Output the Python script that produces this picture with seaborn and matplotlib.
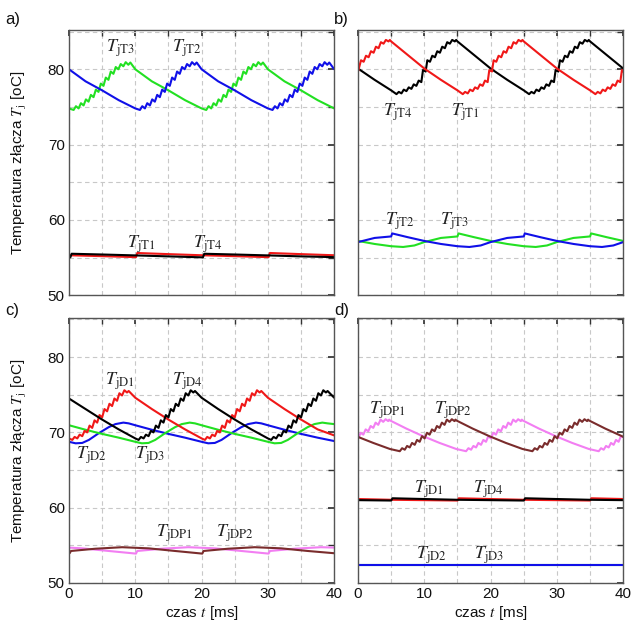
import pandas as pd
import matplotlib
matplotlib.use("Agg")
import matplotlib.pyplot as plt
import seaborn as sns
from matplotlib.ticker import MultipleLocator

# ---- values: time [ms], temperature [degC] ----

# panel a) transistors, upper pair
a_T2_t = [0, 2.5, 5, 7.5, 10, 10.7, 11.05, 11.45, 11.8, 12.2, 12.55, 12.95, 13.3, 13.7, 14.05, 14.45, 14.8,
          15.2, 15.55, 15.95, 16.3, 16.7, 17.05, 17.45, 17.8, 18.2, 18.55, 18.95, 19.25, 20, 22.5, 25, 27.5, 30,
          30.7, 31.05, 31.45, 31.8, 32.2, 32.55, 32.95, 33.3, 33.7, 34.05, 34.45, 34.8, 35.2, 35.55, 35.95, 36.3,
          36.7, 37.05, 37.45, 37.8, 38.2, 38.55, 38.95, 39.25, 40]
a_T2_T = [80.0, 78.4, 77.2, 75.9, 74.8, 74.6, 75.1, 74.8, 75.5, 75.2, 76.0, 75.7, 76.6, 76.3, 77.3, 77.0, 78.1,
          77.8, 78.9, 78.6, 79.7, 79.4, 80.3, 80.0, 80.7, 80.4, 80.95, 80.6, 80.9, 80.0, 78.4, 77.2, 75.9, 74.8,
          74.6, 75.1, 74.8, 75.5, 75.2, 76.0, 75.7, 76.6, 76.3, 77.3, 77.0, 78.1, 77.8, 78.9, 78.6, 79.7,
          79.4, 80.3, 80.0, 80.7, 80.4, 80.95, 80.6, 80.9, 80.0]
a_T3_t = [0, 0.7, 1.05, 1.45, 1.8, 2.2, 2.55, 2.95, 3.3, 3.7, 4.05, 4.45, 4.8, 5.2, 5.55, 5.95, 6.3, 6.7, 7.05,
          7.45, 7.8, 8.2, 8.55, 8.95, 9.25, 10, 12.5, 15, 17.5, 20, 20.7, 21.05, 21.45, 21.8, 22.2, 22.55, 22.95,
          23.3, 23.7, 24.05, 24.45, 24.8, 25.2, 25.55, 25.95, 26.3, 26.7, 27.05, 27.45, 27.8, 28.2, 28.55, 28.95,
          29.25, 30, 32.5, 35, 37.5, 40]
a_T3_T = [74.8, 74.6, 75.1, 74.8, 75.5, 75.2, 76.0, 75.7, 76.6, 76.3, 77.3, 77.0, 78.1, 77.8, 78.9, 78.6, 79.7,
          79.4, 80.3, 80.0, 80.7, 80.4, 80.95, 80.6, 80.9, 80.0, 78.4, 77.2, 75.9, 74.8, 74.6, 75.1, 74.8, 75.5,
          75.2, 76.0, 75.7, 76.6, 76.3, 77.3, 77.0, 78.1, 77.8, 78.9, 78.6, 79.7, 79.4, 80.3, 80.0, 80.7, 80.4,
          80.95, 80.6, 80.9, 80.0, 78.4, 77.2, 75.9, 74.8]
# panel a) lower pair
a_T1_t = [0, 5, 10.1, 10.3, 15, 20, 25, 30.1, 30.3, 35, 40]
a_T1_T = [55.3, 55.18, 55.05, 55.6, 55.45, 55.3, 55.18, 55.05, 55.6, 55.45, 55.3]
a_T4_t = [0, 0.2, 0.4, 5, 10, 15, 20.2, 20.4, 25, 30, 35, 40]
a_T4_T = [55.05, 55.02, 55.5, 55.4, 55.28, 55.15, 55.02, 55.5, 55.4, 55.28, 55.15, 55.05]

# panel b) upper pair
b_T1_t = [0, 0.45, 0.85, 1.2, 1.6, 1.95, 2.35, 2.7, 3.1, 3.45, 3.85, 4.2, 4.6, 4.8, 5, 7.5, 10, 12.5, 15,
          15.8, 16.15, 16.55, 16.9, 17.3, 17.65, 18.05, 18.4, 18.8, 19.15, 19.55, 19.8, 20.2, 20.45, 20.85, 21.2,
          21.6, 21.95, 22.35, 22.7, 23.1, 23.45, 23.85, 24.2, 24.6, 24.8, 25, 27.5, 30, 32.5, 35, 35.8, 36.15,
          36.55, 36.9, 37.3, 37.65, 38.05, 38.4, 38.8, 39.15, 39.55, 39.8, 40]
b_T1_T = [79.7, 81.2, 81.0, 81.8, 81.6, 82.4, 82.2, 83.0, 82.8, 83.6, 83.4, 83.9, 83.7, 83.9, 83.7, 81.9, 80.1,
          78.6, 77.2, 76.7, 77.0, 76.8, 77.3, 77.1, 77.6, 77.4, 78.0, 77.8, 78.5, 78.3, 79.9, 79.7, 81.2, 81.0,
          81.8, 81.6, 82.4, 82.2, 83.0, 82.8, 83.6, 83.4, 83.9, 83.7, 83.9, 83.7, 81.9, 80.1, 78.6, 77.2, 76.7,
          77.0, 76.8, 77.3, 77.1, 77.6, 77.4, 78.0, 77.8, 78.5, 78.3, 79.9, 79.7]
b_T4_t = [0, 2.5, 5, 5.8, 6.15, 6.55, 6.9, 7.3, 7.65, 8.05, 8.4, 8.8, 9.15, 9.55, 9.8, 10.2, 10.45, 10.85,
          11.2, 11.6, 11.95, 12.35, 12.7, 13.1, 13.45, 13.85, 14.2, 14.6, 14.8, 15, 17.5, 20, 22.5, 25, 25.8,
          26.15, 26.55, 26.9, 27.3, 27.65, 28.05, 28.4, 28.8, 29.15, 29.55, 29.8, 30.2, 30.45, 30.85, 31.2, 31.6,
          31.95, 32.35, 32.7, 33.1, 33.45, 33.85, 34.2, 34.6, 34.8, 35, 37.5, 40]
b_T4_T = [80.1, 78.6, 77.2, 76.7, 77.0, 76.8, 77.3, 77.1, 77.6, 77.4, 78.0, 77.8, 78.5, 78.3, 79.9, 79.7, 81.2,
          81.0, 81.8, 81.6, 82.4, 82.2, 83.0, 82.8, 83.6, 83.4, 83.9, 83.7, 83.9, 83.7, 81.9, 80.1, 78.6, 77.2,
          76.7, 77.0, 76.8, 77.3, 77.1, 77.6, 77.4, 78.0, 77.8, 78.5, 78.3, 79.9, 79.7, 81.2, 81.0, 81.8, 81.6,
          82.4, 82.2, 83.0, 82.8, 83.6, 83.4, 83.9, 83.7, 83.9, 83.7, 81.9, 80.1]
# panel b) lower pair
b_T2_t = [0, 2.5, 5.0, 5.15, 7.5, 10, 12.5, 15, 16.8, 18.5, 20, 22.5, 25.0, 25.15, 27.5, 30, 32.5, 35, 36.8,
          38.5, 40]
b_T2_T = [57.05, 57.6, 57.8, 58.2, 57.7, 57.2, 56.8, 56.5, 56.4, 56.6, 57.05, 57.6, 57.8, 58.2, 57.7, 57.2,
          56.8, 56.5, 56.4, 56.6, 57.05]
b_T3_t = [0, 2.5, 5, 6.8, 8.5, 10, 12.5, 15.0, 15.15, 17.5, 20, 22.5, 25, 26.8, 28.5, 30, 32.5, 35.0, 35.15,
          37.5, 40]
b_T3_T = [57.2, 56.8, 56.5, 56.4, 56.6, 57.05, 57.6, 57.8, 58.2, 57.7, 57.2, 56.8, 56.5, 56.4, 56.6, 57.05,
          57.6, 57.8, 58.2, 57.7, 57.2]

# panel c) diodes
c_D1_t = [0, 0.5, 0.85, 1.25, 1.6, 2.0, 2.35, 2.75, 3.1, 3.5, 3.85, 4.25, 4.6, 5.0, 5.35, 5.75, 6.1, 6.5,
          6.85, 7.25, 7.6, 8.0, 8.35, 8.75, 9.0, 10, 12.5, 15, 17.5, 20, 20.5, 20.85, 21.25, 21.6, 22.0, 22.35,
          22.75, 23.1, 23.5, 23.85, 24.25, 24.6, 25.0, 25.35, 25.75, 26.1, 26.5, 26.85, 27.25, 27.6, 28.0, 28.35,
          28.75, 29.0, 30, 32.5, 35, 37.5, 40]
c_D1_T = [69.2, 69.0, 69.4, 69.2, 69.7, 69.5, 70.2, 70.0, 70.9, 70.6, 71.6, 71.3, 72.3, 72.0, 73.1, 72.8,
          73.8, 73.5, 74.5, 74.2, 75.2, 74.9, 75.6, 75.3, 75.5, 74.6, 73.1, 71.7, 70.4, 69.2, 69.0, 69.4, 69.2,
          69.7, 69.5, 70.2, 70.0, 70.9, 70.6, 71.6, 71.3, 72.3, 72.0, 73.1, 72.8, 73.8, 73.5, 74.5, 74.2, 75.2,
          74.9, 75.6, 75.3, 75.5, 74.6, 73.1, 71.7, 70.4, 69.6]
c_D4_t = [0, 2.5, 5, 7.5, 10, 10.5, 10.85, 11.25, 11.6, 12.0, 12.35, 12.75, 13.1, 13.5, 13.85, 14.25, 14.6,
          15.0, 15.35, 15.75, 16.1, 16.5, 16.85, 17.25, 17.6, 18.0, 18.35, 18.75, 19.0, 20, 22.5, 25, 27.5, 30,
          30.5, 30.85, 31.25, 31.6, 32.0, 32.35, 32.75, 33.1, 33.5, 33.85, 34.25, 34.6, 35.0, 35.35, 35.75, 36.1,
          36.5, 36.85, 37.25, 37.6, 38.0, 38.35, 38.75, 39.0, 40]
c_D4_T = [74.5, 73.1, 71.7, 70.4, 69.2, 69.0, 69.4, 69.2, 69.7, 69.5, 70.2, 70.0, 70.9, 70.6, 71.6, 71.3,
          72.3, 72.0, 73.1, 72.8, 73.8, 73.5, 74.5, 74.2, 75.2, 74.9, 75.6, 75.3, 75.5, 74.6, 73.1, 71.7, 70.4,
          69.2, 69.0, 69.4, 69.2, 69.7, 69.5, 70.2, 70.0, 70.9, 70.6, 71.6, 71.3, 72.3, 72.0, 73.1, 72.8, 73.8,
          73.5, 74.5, 74.2, 75.2, 74.9, 75.6, 75.3, 75.5, 74.6]
c_D2_t = [0, 1.0, 2.0, 3.0, 4.5, 6.0, 7.0, 8.2, 9, 10, 12.5, 15, 17.5, 20, 21.0, 22.0, 23.0, 24.5, 26.0,
          27.0, 28.2, 29, 30, 32.5, 35, 37.5, 40]
c_D2_T = [68.75, 68.55, 68.6, 69.0, 69.9, 70.7, 71.1, 71.3, 71.2, 70.95, 70.35, 69.8, 69.3, 68.75, 68.55,
          68.6, 69.0, 69.9, 70.7, 71.1, 71.3, 71.2, 70.95, 70.35, 69.8, 69.3, 68.85]
c_D3_t = [0, 2.5, 5, 7.5, 10, 11, 12, 13, 14.5, 16, 17, 18.2, 19, 20, 22.5, 25, 27.5, 30, 31, 32, 33, 34.5,
          36, 37, 38.2, 39, 40]
c_D3_T = [70.95, 70.35, 69.8, 69.3, 68.75, 68.55, 68.6, 69.0, 69.9, 70.7, 71.1, 71.3, 71.2, 70.95, 70.35,
          69.8, 69.3, 68.75, 68.55, 68.6, 69.0, 69.9, 70.7, 71.1, 71.3, 71.2, 71.1]
c_DP1_t = [0, 2, 6, 10.1, 10.3, 14, 18, 22, 26, 30.1, 30.3, 34, 38, 40]
c_DP1_T = [54.7, 54.6, 54.25, 53.9, 54.25, 54.55, 54.75, 54.6, 54.25, 53.9, 54.25, 54.55, 54.75, 54.7]
c_DP2_t = [0, 0.1, 0.3, 4, 8, 12, 16, 20.1, 20.3, 24, 28, 32, 36, 40]
c_DP2_T = [54.0, 53.95, 54.25, 54.55, 54.75, 54.6, 54.25, 53.9, 54.25, 54.55, 54.75, 54.6, 54.25, 53.95]

# panel d) diodes, parallel diodes on top
d_DP1_t = [0, 0.05, 0.4, 0.8, 1.15, 1.55, 1.9, 2.3, 2.65, 3.05, 3.4, 3.8, 4.15, 4.55, 4.7, 4.8, 7.3, 9.8,
           12.3, 14.8, 16.3, 16.65, 17.05, 17.4, 17.8, 18.15, 18.55, 18.9, 19.3, 19.65, 20.05, 20.4, 20.8, 21.15,
           21.55, 21.9, 22.3, 22.65, 23.05, 23.4, 23.8, 24.15, 24.55, 24.7, 24.8, 27.3, 29.8, 32.3, 34.8, 36.3,
           36.65, 37.05, 37.4, 37.8, 38.15, 38.55, 38.9, 39.3, 39.65, 40]
d_DP1_T = [69.35, 69.2, 69.95, 69.7, 70.4, 70.15, 70.85, 70.6, 71.3, 71.0, 71.7, 71.4, 71.75, 71.5, 71.7,
           71.6, 70.5, 69.5, 68.6, 67.8, 67.5, 67.9, 67.7, 68.2, 68.0, 68.6, 68.35, 69.0, 68.75, 69.5, 69.2,
           69.95, 69.7, 70.4, 70.15, 70.85, 70.6, 71.3, 71.0, 71.7, 71.4, 71.75, 71.5, 71.7, 71.6, 70.5, 69.5,
           68.6, 67.8, 67.5, 67.9, 67.7, 68.2, 68.0, 68.6, 68.35, 69.0, 68.75, 69.5, 69.35]
d_DP2_t = [0, 2.3, 4.8, 6.3, 6.65, 7.05, 7.4, 7.8, 8.15, 8.55, 8.9, 9.3, 9.65, 10.05, 10.4, 10.8, 11.15,
           11.55, 11.9, 12.3, 12.65, 13.05, 13.4, 13.8, 14.15, 14.55, 14.7, 14.8, 17.3, 19.8, 22.3, 24.8, 26.3,
           26.65, 27.05, 27.4, 27.8, 28.15, 28.55, 28.9, 29.3, 29.65, 30.05, 30.4, 30.8, 31.15, 31.55, 31.9,
           32.3, 32.65, 33.05, 33.4, 33.8, 34.15, 34.55, 34.7, 34.8, 37.3, 39.8, 40]
d_DP2_T = [69.4, 68.6, 67.8, 67.5, 67.9, 67.7, 68.2, 68.0, 68.6, 68.35, 69.0, 68.75, 69.5, 69.2, 69.95, 69.7,
           70.4, 70.15, 70.85, 70.6, 71.3, 71.0, 71.7, 71.4, 71.75, 71.5, 71.7, 71.6, 70.5, 69.5, 68.6, 67.8,
           67.5, 67.9, 67.7, 68.2, 68.0, 68.6, 68.35, 69.0, 68.75, 69.5, 69.2, 69.95, 69.7, 70.4, 70.15, 70.85,
           70.6, 71.3, 71.0, 71.7, 71.4, 71.75, 71.5, 71.7, 71.6, 70.5, 69.5, 69.4]
d_D1_t = [0, 5, 10, 15.0, 15.2, 20, 25, 30, 35.0, 35.2, 40]
d_D1_T = [61.15, 61.05, 61.0, 60.95, 61.25, 61.15, 61.05, 61.0, 60.95, 61.25, 61.15]
d_D4_t = [0, 5.0, 5.2, 10, 15, 20, 25.0, 25.2, 30, 35, 40]
d_D4_T = [61.0, 60.95, 61.25, 61.15, 61.05, 61.0, 60.95, 61.25, 61.15, 61.05, 61.0]
d_D2_t = [0, 40]
d_D2_T = [52.33, 52.33]
d_D3_t = [0, 40]
d_D3_T = [52.38, 52.38]

BLUE, GREEN, RED, BLACK = "#1010e8", "#22e022", "#f01818", "#000000"
PINK, BROWN = "#f27ef2", "#7a2c2c"

panels = {
    "a": [("T3", a_T3_t, a_T3_T, GREEN), ("T2", a_T2_t, a_T2_T, BLUE),
          ("T1", a_T1_t, a_T1_T, RED), ("T4", a_T4_t, a_T4_T, BLACK)],
    "b": [("T4", b_T4_t, b_T4_T, BLACK), ("T1", b_T1_t, b_T1_T, RED),
          ("T3", b_T3_t, b_T3_T, GREEN), ("T2", b_T2_t, b_T2_T, BLUE)],
    "c": [("D2", c_D2_t, c_D2_T, BLUE), ("D3", c_D3_t, c_D3_T, GREEN),
          ("D1", c_D1_t, c_D1_T, RED), ("D4", c_D4_t, c_D4_T, BLACK),
          ("DP1", c_DP1_t, c_DP1_T, PINK), ("DP2", c_DP2_t, c_DP2_T, BROWN)],
    "d": [("DP1", d_DP1_t, d_DP1_T, PINK), ("DP2", d_DP2_t, d_DP2_T, BROWN),
          ("D1", d_D1_t, d_D1_T, RED), ("D4", d_D4_t, d_D4_T, BLACK),
          ("D3", d_D3_t, d_D3_T, GREEN), ("D2", d_D2_t, d_D2_T, BLUE)],
}

# curve labels: (text subscript, t, T) at the baseline of the label
labels = {
    "a": [("jT3", 5.6, 82.3), ("jT2", 15.6, 82.3), ("jT1", 8.8, 56.35), ("jT4", 18.7, 56.35)],
    "b": [("jT4", 3.8, 73.9), ("jT1", 14.0, 73.9), ("jT2", 4.0, 59.4), ("jT3", 12.3, 59.4)],
    "c": [("jD1", 5.5, 76.4), ("jD4", 15.6, 76.4), ("jD2", 1.0, 66.5), ("jD3", 10.0, 66.5),
          ("jDP1", 13.1, 56.1), ("jDP2", 22.1, 56.1)],
    "d": [("jDP1", 1.6, 72.5), ("jDP2", 11.5, 72.5), ("jD1", 8.5, 62.05), ("jD4", 17.3, 62.05),
          ("jD2", 8.8, 53.2), ("jD3", 17.5, 53.2)],
}

sns.set_theme(style="white")
plt.rcParams['font.family'] = ['Liberation Sans', 'DejaVu Sans']
plt.rcParams['mathtext.fontset'] = 'stix'

fig = plt.figure(figsize=(6.33, 6.28), dpi=100)
pos = {
    "a": [0.109, 0.530, 0.419, 0.422],
    "b": [0.5656, 0.530, 0.419, 0.422],
    "c": [0.109, 0.0717, 0.419, 0.422],
    "d": [0.5656, 0.0717, 0.419, 0.422],
}

for key, series in panels.items():
    ax = fig.add_axes(pos[key])
    frames = [pd.DataFrame({"t": t, "T": T, "series": name}) for name, t, T, _ in series]
    df = pd.concat(frames, ignore_index=True)
    sns.lineplot(data=df, x="t", y="T", hue="series",
                 hue_order=[s[0] for s in series],
                 palette={s[0]: s[3] for s in series},
                 estimator=None, sort=False, legend=False, linewidth=1.5, ax=ax)

    ax.set_xlim(0, 40)
    ax.set_ylim(50, 85.2)
    ax.xaxis.set_major_locator(MultipleLocator(10))
    ax.xaxis.set_minor_locator(MultipleLocator(5))
    ax.yaxis.set_major_locator(MultipleLocator(10))
    ax.yaxis.set_minor_locator(MultipleLocator(5))
    ax.grid(which="both", color="#c8c8c8", linestyle=(0, (4, 3)), linewidth=0.8)
    ax.set_axisbelow(True)
    ax.tick_params(which="both", direction="in", top=True, right=True, length=4,
                   color="#333333", labelcolor="#111111", labelsize=11, pad=3)
    for s in ax.spines.values():
        s.set_color("#555555")
        s.set_linewidth(1.0)
    ax.set_xlabel("")
    ax.set_ylabel("")

    if key in ("a", "b"):
        ax.tick_params(labelbottom=False)
    else:
        ax.set_xlabel(r"czas $t$ [ms]", fontsize=11, labelpad=2, color="#111111")
    if key in ("b", "d"):
        ax.tick_params(labelleft=False)
    else:
        ax.set_ylabel(r"Temperatura złącza $T_{\mathrm{j}}$ [oC]", fontsize=11, color="#111111")
        ax.yaxis.set_label_coords(-0.15, 0.5)

    for sub, t, T in labels[key]:
        ax.text(t, T, r"$T_{\mathrm{%s}}$" % sub, fontsize=13, ha="left", va="baseline", color="#222222")

for letter, x, y in [("a)", 0.008, 0.962), ("b)", 0.528, 0.962), ("c)", 0.008, 0.498), ("d)", 0.528, 0.498)]:
    fig.text(x, y, letter, fontsize=12, color="#111111")

fig.savefig("out.png", dpi=100)
